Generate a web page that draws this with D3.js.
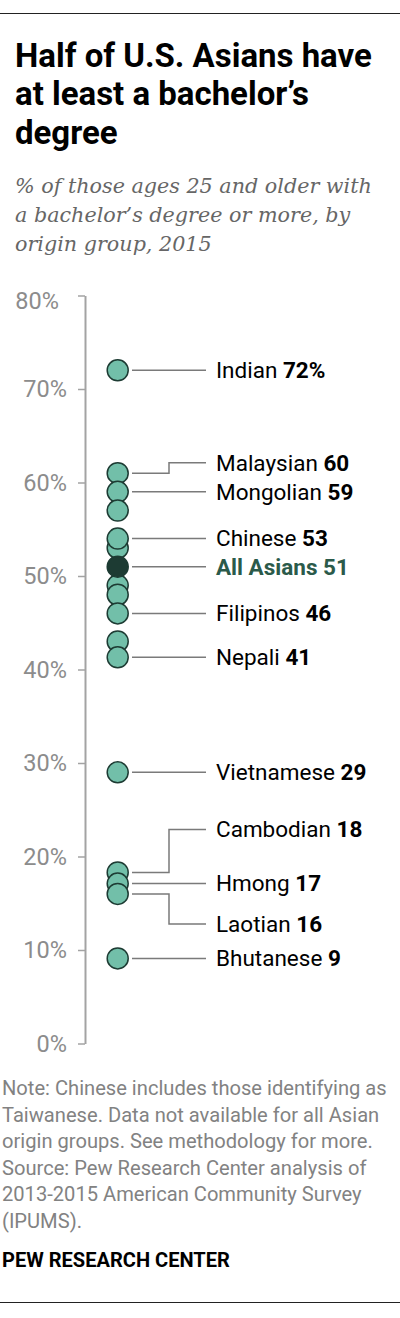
<!DOCTYPE html>
<html>
<head>
<meta charset="utf-8">
<script src="https://cdn.jsdelivr.net/npm/d3@7"></script>
<style>
  body { margin: 0; background: #fff; }
  svg { display: block; }
</style>
</head>
<body>
<div id="vizcont"></div>
<script>
// values
var dotValues   = [72, 61, 59, 57, 53, 54, 51, 49, 48, 46, 43, 41.3, 29, 18.3, 17.1, 16, 9.1];
var dotGroups   = ["Indian", "Malaysian", "Mongolian", "", "", "Chinese", "All Asians", "", "", "Filipinos", "", "Nepali", "Vietnamese", "Cambodian", "Hmong", "Laotian", "Bhutanese"];
var labelText   = {"Indian": "72%", "Malaysian": "60", "Mongolian": "59", "Chinese": "53", "All Asians": "51",
                   "Filipinos": "46", "Nepali": "41", "Vietnamese": "29", "Cambodian": "18", "Hmong": "17",
                   "Laotian": "16", "Bhutanese": "9"};
var tickValues  = [0, 10, 20, 30, 40, 50, 60, 70, 80];
var highlight   = "All Asians";

var titleLines = ["Half of U.S. Asians have", "at least a bachelor\u2019s", "degree"];
var subLines   = ["% of those ages 25 and older with", "a bachelor\u2019s degree or more, by", "origin group, 2015"];
var noteLines  = ["Note: Chinese includes those identifying as", "Taiwanese. Data not available for all Asian",
                  "origin groups. See methodology for more.", "Source: Pew Research Center analysis of",
                  "2013-2015 American Community Survey", "(IPUMS)."];

// label nudges (pixels) where labels are pushed off their dots
var nudge = {"Malaysian": -10.5, "Cambodian": -43, "Laotian": 30};

var W = 400, H = 1318;
var svg = d3.select("#vizcont").append("svg").attr("width", W).attr("height", H);

// helper - scale a block's font so that one line hits a target width
function fitSize(sel, target) {
    var w = sel.node().getComputedTextLength();
    var fs = parseFloat(sel.style("font-size"));
    return fs * target / w;
}

svg.append("line").attr("x1", 0).attr("x2", W).attr("y1", 13.5).attr("y2", 13.5)
   .attr("stroke", "#222").attr("stroke-width", 1);

// title
var title = svg.append("g");
title.selectAll("text").data(titleLines).enter().append("text")
     .attr("x", 15).attr("y", function(d, i) { return 66.7 + i * 38.7; })
     .style("font", "bold 28px Roboto").style("fill", "#000")
     .text(function(d) { return d; });
var tfs = fitSize(title.select("text"), 357);
title.selectAll("text").style("font-size", tfs + "px");

// subtitle
var sub = svg.append("g");
sub.selectAll("text").data(subLines).enter().append("text")
   .attr("x", 15).attr("y", function(d, i) { return 193 + i * 29; })
   .style("font", "italic 18px 'DejaVu Serif'").style("fill", "#666")
   .text(function(d) { return d; });
var sfs = fitSize(sub.select("text"), 357);
sub.selectAll("text").style("font-size", sfs + "px");

// chart
var y = d3.scaleLinear().domain([0, 80]).range([1043.5, 295.5]);
var axisX = 85, cx = 117.7, r = 10.5;

var ax = svg.append("g")
    .attr("transform", "translate(" + axisX + ",0)")
    .call(d3.axisLeft(y).tickValues(tickValues).tickSize(7).tickSizeOuter(0).tickPadding(11)
          .tickFormat(function(d) { return d + "%"; }));
ax.select(".domain").attr("stroke", "#a3a3a3").attr("stroke-width", 2);
ax.selectAll(".tick line").attr("stroke", "#a3a3a3").attr("stroke-width", 1.5);
ax.selectAll(".tick text").style("font", "23.5px Roboto").style("fill", "#8c8c8c");
// top label sits a little off in the original
ax.selectAll(".tick text").filter(function(d) { return d === 80; })
  .attr("transform", "translate(-8,5)");

var dots = dotValues.map(function(v, i) { return {value: v, group: dotGroups[i]}; });
var labeled = dots.filter(function(d) { return d.group !== ""; });

// leader lines
svg.append("g").selectAll("path").data(labeled).enter().append("path")
   .attr("d", function(d) {
       var y0 = y(d.value), y1 = y0 + (nudge[d.group] || 0);
       return "M132," + y0 + "H169V" + y1 + "H206";
   })
   .attr("fill", "none").attr("stroke", "#7a7a7a").attr("stroke-width", 1.5);

// dots
var dg = svg.append("g");
dg.selectAll("circle").data(dots).enter().append("circle")
  .attr("cx", cx).attr("cy", function(d) { return y(d.value); }).attr("r", r)
  .attr("fill", function(d) { return d.group === highlight ? "#1d3b33" : "#72bfa9"; })
  .attr("stroke", "#1d3b33").attr("stroke-width", 1.5);
dg.selectAll("circle").filter(function(d) { return d.group === highlight; }).raise();

// labels
var lab = svg.append("g").selectAll("text").data(labeled).enter().append("text")
   .attr("x", 216)
   .attr("y", function(d) { return y(d.value) + (nudge[d.group] || 0); })
   .attr("dy", "0.35em")
   .style("font", "22.5px Roboto")
   .style("fill", function(d) { return d.group === highlight ? "#2b5a4a" : "#000"; })
   .style("font-weight", function(d) { return d.group === highlight ? "bold" : "normal"; });
lab.append("tspan").text(function(d) { return d.group + " "; });
lab.append("tspan").style("font-weight", "bold").text(function(d) { return labelText[d.group]; });

// notes
var notes = svg.append("g");
notes.selectAll("text").data(noteLines).enter().append("text")
     .attr("x", 2).attr("y", function(d, i) { return 1095 + i * 26.6; })
     .style("font", "17px Roboto").style("fill", "#828282")
     .text(function(d) { return d; });
var nfs = fitSize(notes.select("text"), 385);
notes.selectAll("text").style("font-size", nfs + "px");

var pew = svg.append("text").attr("x", 2).attr("y", 1266.7)
   .style("font", "bold 17px Roboto").style("fill", "#000")
   .text("PEW RESEARCH CENTER");
pew.style("font-size", fitSize(pew, 228) + "px");

svg.append("line").attr("x1", 0).attr("x2", W).attr("y1", 1302.5).attr("y2", 1302.5)
   .attr("stroke", "#222").attr("stroke-width", 1);
</script>
</body>
</html>
